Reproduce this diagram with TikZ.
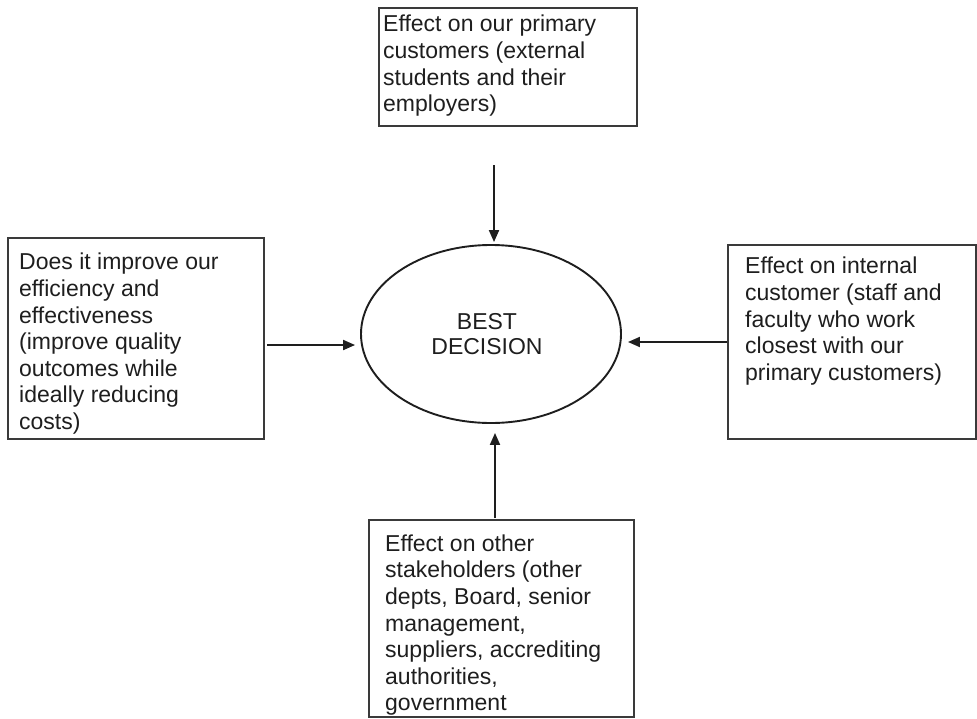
\documentclass[tikz,border=0pt]{standalone}
\usepackage{fontspec}
\setmainfont{Liberation Sans}
\usetikzlibrary{shapes.geometric,arrows.meta}
\definecolor{ink}{HTML}{1E1E1E}
\definecolor{edge}{HTML}{3A3A3A}
\tikzset{
  box/.style={draw=edge, line width=1.3pt, inner sep=0pt, fill=none},
  txt/.style={anchor=north west, align=left, inner sep=0pt, text=ink,
    font=\fontsize{23}{26.6}\selectfont},
  arr/.style={draw=ink, line width=1.9pt, -{Triangle[length=12pt,width=10pt]}},
}
\begin{document}
\begin{tikzpicture}[x=1pt,y=-1pt]
\useasboundingbox (0,0) rectangle (977,718);
% boxes
\node[box, minimum width=258pt, minimum height=118pt] (topbox) at (508,67) {};
\node[box, minimum width=256pt, minimum height=201pt] (leftbox) at (136,338.5) {};
\node[box, minimum width=248pt, minimum height=194pt] (rightbox) at (852,342) {};
\node[box, minimum width=265pt, minimum height=197pt] (botbox) at (501.5,618.5) {};
% texts
\node[txt] (toptxt) at (383,15) {Effect on our primary\\customers (external\\students and their\\employers)};
\node[txt] (lefttxt) at (19,253) {Does it improve our\\efficiency and\\effectiveness\\(improve quality\\outcomes while\\ideally reducing\\costs)};
\node[txt] (righttxt) at (745,257) {Effect on internal\\customer (staff and\\faculty who work\\closest with our\\primary customers)};
\node[txt] (bottxt) at (385,534.5) {Effect on other\\stakeholders (other\\depts, Board, senior\\management,\\suppliers, accrediting\\authorities,\\government};
% ellipse
\node[ellipse, draw=ink, line width=1.9pt, minimum width=260pt, minimum height=178pt, inner sep=0pt,
  align=center, text=ink, font=\fontsize{23}{25.5}\selectfont] (e) at (491,334) {\hspace*{-8pt}BEST\\\hspace*{-8pt}DECISION};
% arrows
\coordinate (tA) at (494,165);
\coordinate (lA) at (267,345);
\coordinate (rA) at (727,342);
\coordinate (bA) at (495,518);
\draw[arr, shorten >=2pt] (tA) -- (tA |- e.north);
\draw[arr, shorten >=5pt] (lA) -- (lA -| e.west);
\draw[arr, shorten >=6pt] (rA) -- (rA -| e.east);
\draw[arr, shorten >=9pt] (bA) -- (bA |- e.south);
\end{tikzpicture}
\end{document}
